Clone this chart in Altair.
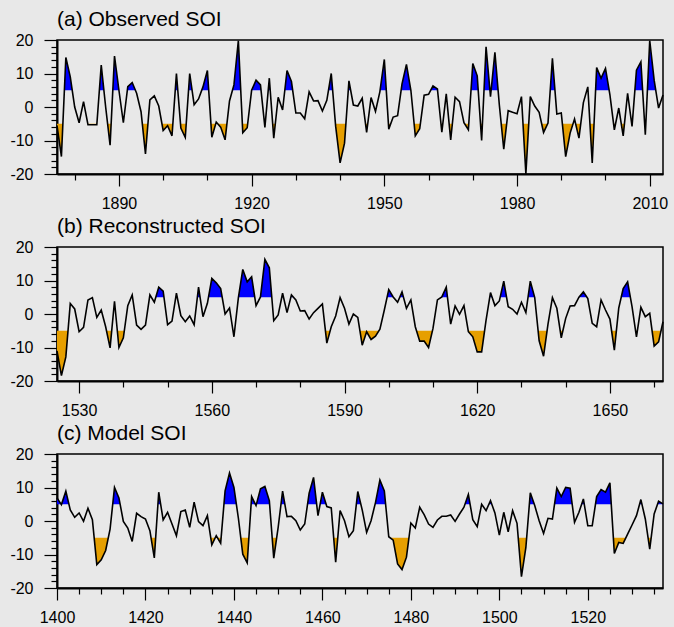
import altair as alt
import jinja2
import pandas as pd

# ---------------- data ----------------
obs_start = 1876
obs_soi = [
    -5.5, -14.8, 14.8, 9.0, 0.0, -4.7, 1.6, -5.3, -5.3, -5.3,        # 1876-1885
    12.5, 0.0, -11.4, 15.2, 5.0, -4.7, 6.1, 7.3, 4.1, -1.4,          # 1886-1895
    -14.0, 2.1, 3.3, 0.3, -7.0, -5.6, -8.6, 10.0, -6.3, -9.1,        # 1896-1905
    10.0, 0.7, 2.4, 6.0, 10.9, -9.0, -4.5, -6.0, -9.8, 1.8,          # 1906-1915
    6.6, 19.8, -7.7, -6.2, 5.0, 8.0, 6.6, -6.1, 8.6, -9.3,           # 1916-1925
    2.9, -0.9, 10.9, 7.6, -1.8, -1.8, -3.5, 4.5, 1.8, 1.9,           # 1926-1935
    -1.2, 2.0, 10.0, -5.8, -16.7, -10.8, 7.8, 0.6, 0.3, 2.6,         # 1936-1945
    -7.6, 2.8, -1.3, 4.6, 14.2, -6.6, -3.0, -2.6, 6.9, 12.7,         # 1946-1955
    5.0, -8.6, -6.5, 3.5, 3.8, 6.3, 5.4, -7.5, 3.9, -9.8,            # 1956-1965
    2.9, 1.6, -4.7, -6.8, 13.0, 9.3, -10.0, 18.0, 3.1, 16.3,         # 1966-1975
    0.6, -12.6, -1.1, -1.6, -2.0, 3.1, -20.0, 3.1, 0.3, -1.6,        # 1976-1985
    -7.6, -4.8, 14.5, -2.1, -1.8, -14.8, -7.8, -3.6, -9.3, 1.3,      # 1986-1995
    6.0, -16.7, 11.8, 8.6, 11.5, 3.6, -6.8, -0.3, -8.6, 4.1,         # 1996-2005
    -5.8, 11.0, 13.5, -8.3, 19.8, 8.0, -0.3, 3.6,                    # 2006-2013
]

rec_start = 1525
rec_soi = [
    -11.0, -18.4, -12.8, 3.1, 1.5, -5.3, -4.0, 4.2, 4.9, -1.0,       # 1525-1534
    1.2, -3.8, -10.1, 3.8, -10.0, -7.1, 2.5, 5.7, -3.3, -4.6,        # 1535-1544
    -3.3, 5.7, 3.5, 8.0, 6.8, -3.2, -2.1, 6.2, -0.5, -2.3,           # 1545-1554
    -0.6, -3.2, 8.0, -0.8, 3.2, 10.6, 9.3, 7.6, 0.0, 1.8,            # 1555-1564
    -6.8, 4.8, 13.3, 9.6, 11.1, 2.5, 5.1, 16.3, 13.8, -2.0,          # 1565-1574
    -0.3, 6.2, 0.4, 5.7, 4.2, 0.9, 1.0, -1.5, 0.4, 1.7,              # 1575-1584
    3.0, -8.7, -3.8, -0.6, 4.9, 1.7, -3.0, 0.0, -1.0, -9.3,          # 1585-1594
    -5.3, -7.6, -6.6, -4.5, 1.2, 7.3, 5.1, 3.5, 6.6, 1.7,            # 1595-1604
    4.2, -3.8, -8.1, -8.1, -10.0, -4.3, 4.2, 5.1, 8.0, -3.0,         # 1605-1614
    2.4, -0.1, 2.5, -5.3, -6.8, -11.3, -11.3, -1.8, 6.4, 2.5,        # 1615-1624
    3.9, 9.8, 2.2, 1.4, 0.0, 3.5, 0.4, 9.8, 4.9, -8.0,               # 1625-1634
    -12.6, -3.0, 4.9, 1.7, -7.1, -1.3, 2.4, 2.5, 5.0, 6.6,           # 1635-1644
    4.6, -2.8, -3.8, 4.2, 1.2, -1.5, -10.8, 1.8, 7.6, 9.6,           # 1645-1654
    2.2, -6.8, 2.0, -0.8, 0.2, -9.6, -8.3, -2.3,                     # 1655-1662
]

mod_start = 1400
mod_soi = [
    6.9, 4.9, 8.9, 3.3, 1.1, 2.4, -0.1, 3.8, 0.4, -13.0,             # 1400-1409
    -11.6, -8.8, -2.4, 10.0, 6.9, -0.1, -2.1, -6.1, 2.3, 1.3,        # 1410-1419
    0.6, -2.9, -11.0, 8.6, 0.3, 2.6, -0.9, -4.4, 2.8, 3.3,           # 1420-1429
    -1.9, 5.6, -0.2, -1.4, 1.6, -7.1, -4.4, -6.6, 9.0, 14.3,         # 1430-1439
    10.0, 0.9, -9.9, -12.5, 7.3, 4.6, 9.6, 10.3, 6.1, -11.1,         # 1440-1449
    -1.9, 8.9, 1.3, 1.4, 0.1, -2.7, -0.9, 8.3, 13.0, 1.6,            # 1450-1459
    8.6, 4.3, 3.9, -12.3, 3.1, 0.1, -4.7, -2.9, 8.8, 3.3,            # 1460-1469
    -3.4, 0.1, 5.5, 12.2, 9.0, -4.7, -5.7, -12.8, -14.5, -10.8,      # 1470-1479
    -0.6, -2.1, 4.1, 1.9, -0.9, -1.9, 0.3, 1.4, 1.4, 1.8,            # 1480-1489
    -0.1, 2.1, 4.1, 7.9, 0.4, -1.7, 5.0, 3.1, 6.1, 2.4,              # 1490-1499
    -4.2, 2.6, -3.2, 3.1, -0.7, -16.6, -7.9, 8.4, 4.6, 0.1,          # 1500-1509
    -3.7, 0.8, 0.6, 9.8, 7.3, 10.0, 9.8, -0.4, 2.6, 6.6,             # 1510-1519
    -1.4, -1.4, 7.3, 9.4, 8.6, 11.4, -9.7, -6.4, -6.7, -3.9,         # 1520-1529
    -1.2, 1.6, 6.4, 0.6, -8.4, 2.1, 5.9, 5.1,                        # 1530-1537
]

titles = ["(a) Observed SOI", "(b) Reconstructed SOI", "(c) Model SOI"]
thresholds = [5, -5]

BLUE = "#0000ff"
ORANGE = "#e69f00"
BG = "#e8e8e8"
FONT = "Liberation Sans"


def build_tables(start, vals):
    years = list(range(start, start + len(vals)))
    line = pd.DataFrame({"year": years, "soi": vals})
    up, lo = [], []
    hi_t, lo_t = thresholds
    for i, (x, v) in enumerate(zip(years, vals)):
        if i > 0:
            x0, v0 = years[i - 1], vals[i - 1]
            for thr, lst in ((hi_t, up), (lo_t, lo)):
                if (v0 - thr) * (v - thr) < 0:
                    xc = x0 + (thr - v0) / (v - v0) * (x - x0)
                    lst.append((xc, thr))
        up.append((x, max(v, hi_t)))
        lo.append((x, min(v, lo_t)))
    up_df = pd.DataFrame(up, columns=["year", "top"]).assign(base=hi_t)
    lo_df = pd.DataFrame(lo, columns=["year", "top"]).assign(base=lo_t)
    return years, line, up_df, lo_df


def cond(test, yes, no):
    return {"condition": {"test": test, "value": yes}, "value": no}


def panel(start, vals, title, minor_step, major_mod):
    years, line, up_df, lo_df = build_tables(start, vals)
    first = ((start + minor_step - 1) // minor_step) * minor_step
    xvals = list(range(first, years[-1] + 1, minor_step))
    xmajor = f"datum.value % {major_mod} === 0"
    ymajor = "datum.value % 10 === 0"
    xscale = alt.Scale(domain=[years[0], years[-1]], nice=False, zero=False)
    yscale = alt.Scale(domain=[-20, 20], nice=False, zero=False)
    xaxis = alt.Axis(
        values=xvals, format="d", title=None, grid=False,
        labelExpr=f"{xmajor} ? datum.label : ''",
        labelFontSize=cond(xmajor, 16, 0),
        tickSize=cond(xmajor, 12, 6),
        labelPadding=9, labelFlush=False, labelOverlap=False, labelBound=False,
    )
    yaxis = alt.Axis(
        values=list(range(-20, 21, 2)), title=None, grid=False,
        labelExpr=f"{ymajor} ? '' + datum.value : ''",
        labelFontSize=cond(ymajor, 16, 0),
        tickSize=cond(ymajor, 13, 6),
        labelPadding=11, labelFlush=False, labelOverlap=False, labelBound=False,
    )
    X = alt.X("year:Q", scale=xscale, axis=xaxis)
    area_up = alt.Chart(up_df).mark_area(color=BLUE, opacity=1).encode(
        x=X, y=alt.Y("top:Q", scale=yscale, axis=yaxis), y2="base:Q",
    )
    area_lo = alt.Chart(lo_df).mark_area(color=ORANGE, opacity=1).encode(
        x=X, y=alt.Y("top:Q", scale=yscale, axis=yaxis), y2="base:Q",
    )
    ln = alt.Chart(line).mark_line(color="black", strokeWidth=1.6).encode(
        x=X, y=alt.Y("soi:Q", scale=yscale, axis=yaxis),
    )
    return alt.layer(area_up, area_lo, ln).properties(
        width=606, height=134,
        title=alt.TitleParams(title, anchor="start", frame="group", fontSize=21,
                              font=FONT, fontWeight="normal", color="black", offset=2),
    )


a = panel(obs_start, obs_soi, titles[0], 10, 30)
b = panel(rec_start, rec_soi, titles[1], 10, 30)
c = panel(mod_start, mod_soi, titles[2], 5, 20)

chart = alt.vconcat(a, b, c, spacing=3).configure(
    background=BG, font=FONT,
    padding={"left": 9, "top": 8, "right": 0, "bottom": 0},
).configure_view(
    stroke="black", strokeWidth=1.5,
).configure_axis(
    labelFont=FONT, labelFontSize=16, labelColor="black",
    labelOverlap=False,
    tickColor="black", tickWidth=1.2,
    domainColor="black", domainWidth=2,
)

# page template: same as Altair's standard one, with the page painted in the chart's grey
PAGE = jinja2.Template("""<!DOCTYPE html>
<html>
<head>
  <style>
    html, body { background: """ + BG + """; margin: 0; }
    #{{ output_div }}.vega-embed { width: 100%; display: flex; }
    #{{ output_div }}.vega-embed details,
    #{{ output_div }}.vega-embed details summary { position: relative; }
  </style>
  <script type="text/javascript" src="{{ base_url }}/vega@{{ vega_version }}"></script>
  <script type="text/javascript" src="{{ base_url }}/vega-lite@{{ vegalite_version }}"></script>
  <script type="text/javascript" src="{{ base_url }}/vega-embed@{{ vegaembed_version }}"></script>
</head>
<body>
  <div id="{{ output_div }}"></div>
  <script>
    (function(vegaEmbed) {
      var spec = {{ spec }};
      var embedOpt = {{ embed_options }};
      function showError(el, error){
          el.innerHTML = ('<div style="color:red;"><p>JavaScript Error: ' + error.message + '</p></div>');
          throw error;
      }
      const el = document.getElementById('{{ output_div }}');
      vegaEmbed("#{{ output_div }}", spec, embedOpt)
        .catch(error => showError(el, error));
    })(vegaEmbed);
  </script>
</body>
</html>
""")

chart.save("out.html", embed_options={"renderer": "svg", "actions": False}, template=PAGE)
